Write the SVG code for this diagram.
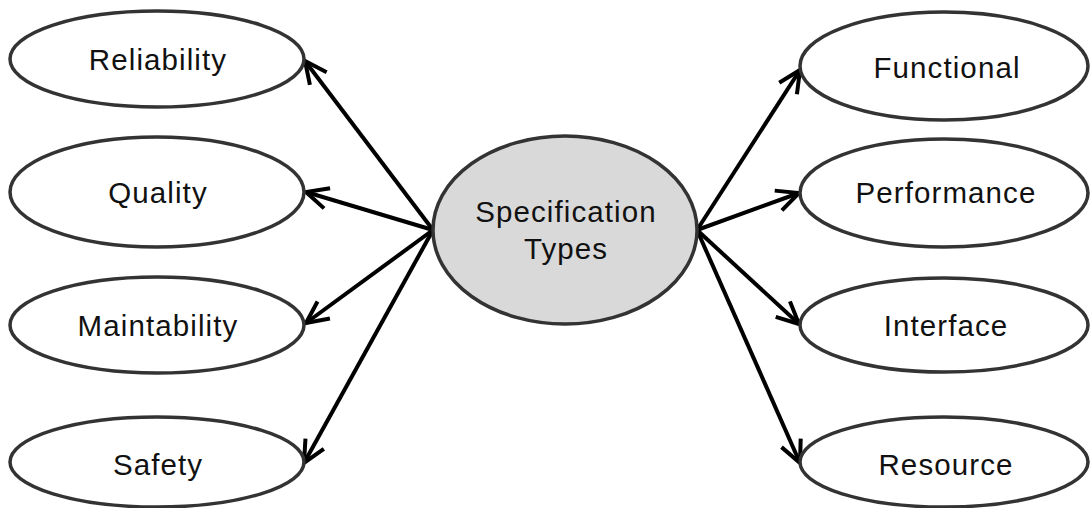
<svg xmlns="http://www.w3.org/2000/svg" width="1091" height="508" viewBox="0 0 1091 508">
  <style>
    .node ellipse { fill: #ffffff; stroke: #333333; stroke-width: 3.5; }
    .hub ellipse { fill: #d9d9d9; stroke: #333333; stroke-width: 3.5; }
    text { font-family: "Liberation Sans", Arial, sans-serif; font-size: 29.5px; fill: #111111; text-anchor: middle; letter-spacing: 1.1px; }
    .link { stroke: #000000; stroke-width: 4; fill: none; marker-end: url(#arrow); }
  </style>
  <defs>
    <marker id="arrow" markerUnits="userSpaceOnUse" viewBox="-30 -15 40 30" refX="0" refY="0" markerWidth="40" markerHeight="30" orient="auto" overflow="visible">
      <path d="M -22 -10.5 L 0 0 L -22 10.5" fill="none" stroke="#000000" stroke-width="4" stroke-linecap="butt" stroke-linejoin="miter"/>
    </marker>
  </defs>

  <rect width="1091" height="508" fill="#ffffff"/>

  <!-- connectors from the hub to each specification type -->
  <g id="connectors">
    <line class="link" x1="433" y1="230" x2="305" y2="61"/>
    <line class="link" x1="433" y1="230" x2="306" y2="192"/>
    <line class="link" x1="433" y1="230" x2="306" y2="323"/>
    <line class="link" x1="433" y1="230" x2="304" y2="463"/>
    <line class="link" x1="697" y1="230" x2="800" y2="70"/>
    <line class="link" x1="697" y1="230" x2="799" y2="193"/>
    <line class="link" x1="697" y1="230" x2="799" y2="324"/>
    <line class="link" x1="697" y1="230" x2="800" y2="463"/>
  </g>

  <g id="hub" class="hub">
    <ellipse cx="565" cy="230" rx="132" ry="94"/>
    <text x="566" y="222">Specification</text>
    <text x="566" y="259">Types</text>
  </g>

  <!-- left column -->
  <g id="reliability" class="node">
    <ellipse cx="157" cy="59" rx="147" ry="48"/>
    <text x="158" y="70">Reliability</text>
  </g>
  <g id="quality" class="node">
    <ellipse cx="157" cy="192" rx="147" ry="55"/>
    <text x="158" y="203">Quality</text>
  </g>
  <g id="maintability" class="node">
    <ellipse cx="157" cy="325" rx="147" ry="48"/>
    <text x="158" y="336">Maintability</text>
  </g>
  <g id="safety" class="node">
    <ellipse cx="157" cy="462" rx="147" ry="45"/>
    <text x="158" y="475">Safety</text>
  </g>

  <!-- right column -->
  <g id="functional" class="node">
    <ellipse cx="944" cy="66" rx="144" ry="54"/>
    <text x="947" y="78">Functional</text>
  </g>
  <g id="performance" class="node">
    <ellipse cx="944" cy="193" rx="144" ry="54"/>
    <text x="946" y="203">Performance</text>
  </g>
  <g id="interface" class="node">
    <ellipse cx="944" cy="325" rx="144" ry="47"/>
    <text x="946" y="336">Interface</text>
  </g>
  <g id="resource" class="node">
    <ellipse cx="944" cy="462" rx="144" ry="45"/>
    <text x="946" y="475">Resource</text>
  </g>
</svg>
